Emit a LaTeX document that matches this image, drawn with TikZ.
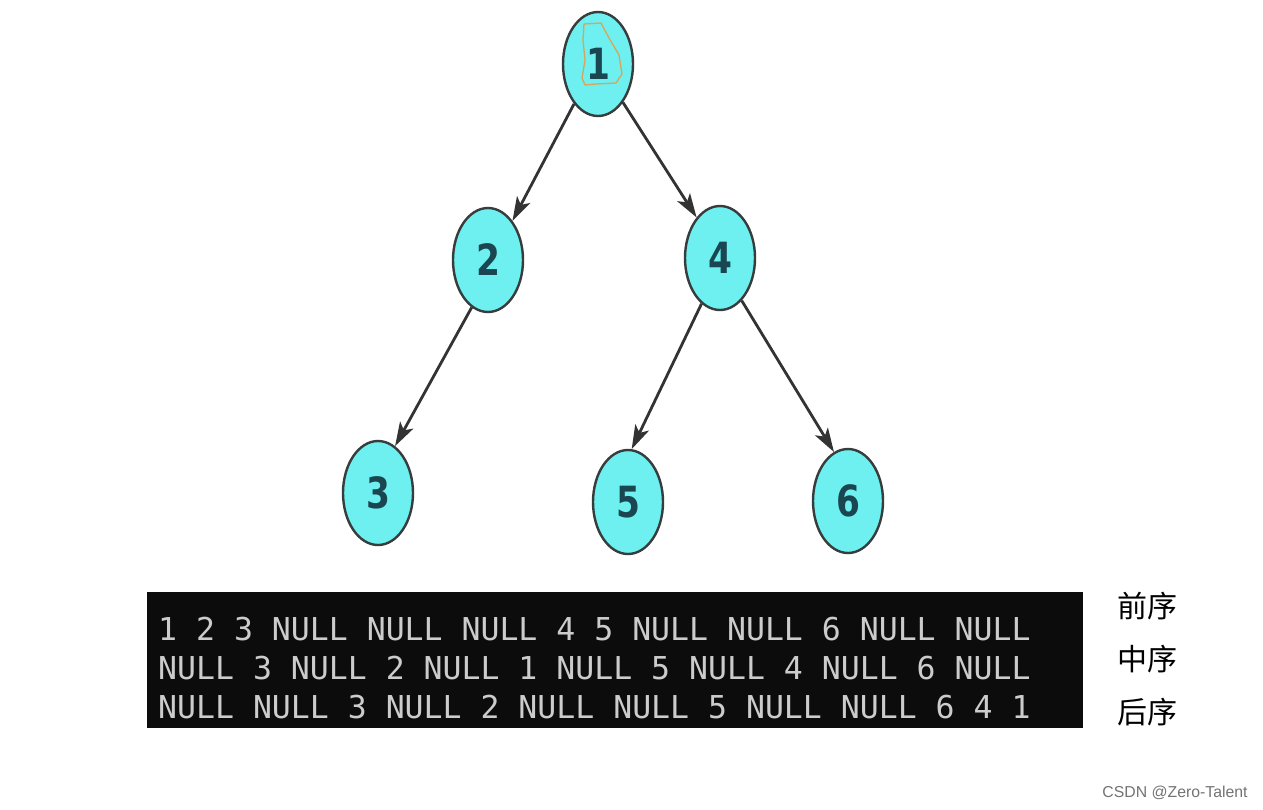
\documentclass[tikz,border=0pt]{standalone}
\usepackage{fontspec}
\usetikzlibrary{shapes.geometric,arrows.meta}
\setmainfont{Liberation Sans}
\newfontfamily\termfont{DejaVu Sans Mono}
\newfontfamily\digitfont[FakeStretch=0.8]{DejaVu Sans}
\newfontfamily\cjkfont{Noto Sans CJK SC}
\definecolor{nodefill}{RGB}{110,240,240}
\definecolor{nodeline}{RGB}{55,60,60}
\definecolor{digitcol}{RGB}{25,70,80}
\definecolor{termbg}{RGB}{12,12,12}
\definecolor{termfg}{RGB}{204,204,204}
\definecolor{scribble}{RGB}{215,165,90}
\tikzset{
  treenode/.style={ellipse, draw=nodeline, line width=2.4pt, fill=nodefill,
    minimum width=70pt, minimum height=104pt, inner sep=0pt,
    font=\digitfont\bfseries\fontsize{43}{43}\selectfont, text=digitcol},
  treeedge/.style={draw=black!80, line width=2.8pt,
    -{Stealth[length=24pt,width=15pt,inset=6pt]}},
  termline/.style={anchor=base west, inner sep=0pt, text=termfg,
    font=\termfont\fontsize{31.5}{39}\selectfont},
  cjklabel/.style={inner sep=0pt, font=\cjkfont\fontsize{30}{30}\selectfont},
}
\begin{document}
\begin{tikzpicture}[x=1pt,y=-1pt]
\useasboundingbox (0,0) rectangle (1263,809);
\fill[white] (0,0) rectangle (1263,809);
% tree nodes
\node[treenode] (n1) at (598,64) {1};
\node[treenode] (n2) at (488,260) {2};
\node[treenode] (n4) at (720,258) {4};
\node[treenode] (n3) at (378,493) {3};
\node[treenode] (n5) at (628,502) {5};
\node[treenode] (n6) at (848,501) {6};
% scribble around 1
\draw[scribble, line width=1.3pt, line join=round]
  (584,24) -- (601,23) -- (609,38) -- (619,55) -- (622,74) -- (616,83)
  -- (596,84) -- (585,85) -- (582,78) -- (585,60) -- (583,40) -- cycle;
% edges
\draw[treeedge] (n1.239) -- (n2.58);
\draw[treeedge] (n1.303) -- (n4.120);
\draw[treeedge] (n2.251) -- (n3.70);
\draw[treeedge] (n4.248) -- (n5.86);
\draw[treeedge] (n4.297) -- (n6.106);
% terminal
\node[fill=termbg, minimum width=936pt, minimum height=136pt, inner sep=0pt,
  anchor=north west] (term) at (147,592) {};
\node[termline] (l1) at (158,640) {1 2 3 NULL NULL NULL 4 5 NULL NULL 6 NULL NULL};
\node[termline] (l2) at (158,679) {NULL 3 NULL 2 NULL 1 NULL 5 NULL 4 NULL 6 NULL};
\node[termline] (l3) at (158,718) {NULL NULL 3 NULL 2 NULL NULL 5 NULL NULL 6 4 1};
% labels
\node[cjklabel] (c1) at (1147,606) {前序};
\node[cjklabel] (c2) at (1147,659) {中序};
\node[cjklabel] (c3) at (1147,712) {后序};
% watermark
\node[inner sep=0pt, text=black!55, font=\fontsize{15.8}{16}\selectfont] (wm) at (1175,793) {CSDN @Zero-Talent};
\end{tikzpicture}
\end{document}
